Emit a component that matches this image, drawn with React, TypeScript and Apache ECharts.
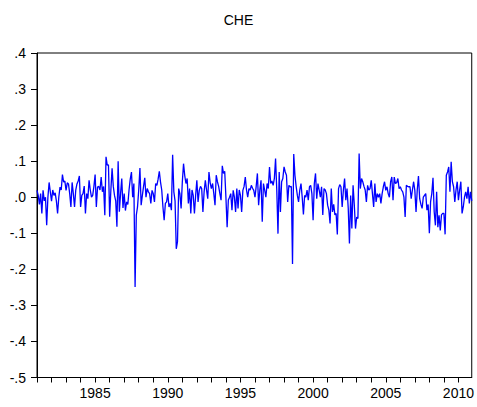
import React, { useEffect, useRef } from "react";
import * as echarts from "echarts";

const TITLE = "CHE";
const START_YEAR = 1981;
const END_YEAR = 2010;
const Y_MIN = -0.5;
const Y_MAX = 0.4;
const Y_STEP = 0.1;

// Monthly values, one row per year (Jan..Dec), 1981-2010
const values: number[] = [
  0.019, 0.005, -0.02, 0.01, -0.045, 0.019, -0.01, 0.0, -0.078, 0.0, 0.041, 0.015,
  -0.011, 0.02, 0.005, 0.012, -0.01, -0.045, 0.0, 0.028, 0.02, 0.063, 0.042, 0.045,
  0.019, 0.04, 0.037, 0.01, -0.027, 0.041, 0.01, -0.027, 0.02, 0.037, 0.045, 0.059,
  -0.027, 0.005, 0.01, 0.031, -0.045, 0.01, -0.004, 0.047, 0.02, 0.0, 0.005, 0.03,
  0.063, -0.027, 0.028, 0.03, 0.02, 0.056, 0.015, 0.03, -0.05, 0.112, 0.089, 0.09,
  -0.054, 0.02, 0.08, 0.03, 0.005, -0.01, -0.082, 0.1, -0.04, 0.01, 0.052, -0.03,
  0.01, -0.037, -0.013, -0.02, 0.02, 0.05, 0.07, 0.0, 0.038, -0.249, -0.05, -0.027,
  0.02, 0.081, -0.022, 0.005, 0.03, 0.054, 0.0, 0.024, 0.015, 0.01, -0.017, 0.019,
  0.01, -0.013, 0.038, 0.033, 0.05, 0.072, 0.042, 0.02, -0.027, -0.064, -0.017, -0.013,
  0.01, -0.027, -0.017, -0.036, 0.118, 0.015, -0.01, -0.143, -0.124, 0.024, 0.01, -0.031,
  0.042, 0.093, 0.06, 0.038, 0.052, -0.017, 0.024, -0.045, 0.02, 0.005, -0.045, 0.005,
  0.047, -0.013, 0.019, 0.03, 0.024, -0.041, 0.015, 0.047, 0.02, -0.004, 0.07, 0.04,
  0.024, 0.038, 0.01, -0.022, 0.061, 0.043, 0.03, 0.01, -0.008, 0.087, 0.066, 0.072,
  0.0, -0.083, -0.008, 0.0, 0.01, -0.036, 0.019, 0.0, -0.041, 0.024, -0.031, 0.02,
  0.005, -0.041, 0.019, 0.03, 0.056, 0.02, 0.0, 0.024, 0.02, 0.033, 0.025, 0.019,
  0.0, 0.03, 0.066, -0.022, 0.02, 0.047, -0.068, 0.038, 0.02, 0.0, 0.038, 0.024,
  0.084, 0.038, 0.045, 0.033, 0.052, 0.107, 0.02, -0.101, 0.07, -0.041, 0.043, 0.052,
  0.084, 0.07, 0.061, -0.013, 0.033, 0.029, 0.03, -0.185, 0.12, 0.061, 0.03, 0.005,
  -0.013, 0.02, 0.038, 0.0, -0.048, 0.005, 0.0, 0.02, -0.008, 0.029, 0.033, 0.01,
  -0.064, 0.038, 0.066, -0.004, 0.038, 0.02, 0.0, 0.029, -0.049, 0.024, 0.02, 0.01,
  -0.022, -0.036, -0.073, 0.024, -0.041, -0.02, -0.049, -0.045, -0.103, 0.024, 0.035, 0.029,
  -0.027, 0.02, 0.052, -0.008, 0.024, -0.03, -0.128, 0.005, -0.087, 0.033, -0.02, -0.087,
  -0.055, -0.059, 0.121, 0.024, 0.052, 0.043, 0.03, 0.02, -0.013, 0.033, 0.02, 0.024,
  0.047, 0.01, -0.027, 0.038, -0.013, 0.01, 0.0, 0.01, -0.017, 0.01, 0.029, 0.043,
  0.019, 0.029, 0.01, 0.0, 0.043, 0.056, -0.008, 0.056, 0.038, 0.04, 0.052, 0.024,
  0.029, 0.02, 0.015, 0.0, -0.055, 0.033, 0.03, 0.029, 0.029, -0.004, 0.02, 0.043,
  0.019, -0.041, 0.02, 0.059, -0.004, -0.02, -0.031, 0.0, 0.005, 0.01, -0.036, -0.02,
  -0.1, -0.013, 0.01, 0.054, -0.041, -0.078, 0.015, -0.083, -0.05, -0.092, -0.049, -0.045,
  -0.045, -0.103, 0.061, 0.07, 0.084, 0.015, 0.098, 0.043, 0.029, -0.013, 0.02, 0.043,
  -0.008, 0.02, 0.043, -0.045, -0.027, 0.0, 0.015, -0.004, 0.029, -0.017, 0.015, -0.01,
];

const categories: string[] = [];
for (let y = START_YEAR; y <= END_YEAR; y++) {
  for (let m = 1; m <= 12; m++) {
    categories.push(`${y}M${m < 10 ? "0" + m : m}`);
  }
}

const FONT = "'Liberation Sans', Arial, sans-serif";

function fmtY(v: number): string {
  const s = Math.abs(v).toFixed(1).replace(/^0/, "");
  return v < -1e-9 ? "-" + s : s;
}

export default function App() {
  const ref = useRef<HTMLDivElement>(null);
  useEffect(() => {
    if (!ref.current) return;
    const chart = echarts.init(ref.current, null, { renderer: "svg" });
    chart.setOption({
      animation: false,
      backgroundColor: "#ffffff",
      title: {
        text: TITLE,
        left: "center",
        top: 8,
        textStyle: { fontFamily: FONT, fontSize: 14, fontWeight: "normal", color: "#000" },
      },
      grid: {
        left: 37,
        right: 5,
        top: 53,
        bottom: 29.5,
        show: true,
        borderColor: "#000",
        borderWidth: 1,
        backgroundColor: "transparent",
      },
      xAxis: {
        type: "category",
        data: categories,
        boundaryGap: false,
        axisLine: { show: true, onZero: false, lineStyle: { color: "#000", width: 1 } },
        axisTick: {
          show: true,
          length: 5,
          interval: (i: number) => i % 12 === 0,
          lineStyle: { color: "#000" },
        },
        axisLabel: {
          interval: (i: number) => i % 12 === 0 && (START_YEAR + i / 12) % 5 === 0,
          formatter: (v: string) => v.slice(0, 4),
          fontFamily: FONT,
          fontSize: 14,
          color: "#000",
          margin: 8,
        },
        splitLine: { show: false },
      },
      yAxis: {
        type: "value",
        min: Y_MIN,
        max: Y_MAX,
        interval: Y_STEP,
        axisLine: { show: true, lineStyle: { color: "#000", width: 1 } },
        axisTick: { show: true, length: 6, lineStyle: { color: "#000" } },
        axisLabel: {
          formatter: fmtY,
          fontFamily: FONT,
          fontSize: 14,
          color: "#000",
          margin: 11,
        },
        splitLine: { show: false },
      },
      series: [
        {
          type: "line",
          data: values,
          showSymbol: false,
          symbol: "none",
          lineStyle: { color: "#0000FF", width: 1.3 },
        },
      ],
    });
    return () => chart.dispose();
  }, []);
  return (
    <div
      ref={ref}
      style={{ position: "absolute", left: 0, top: 0, width: 477, height: 407 }}
    />
  );
}
